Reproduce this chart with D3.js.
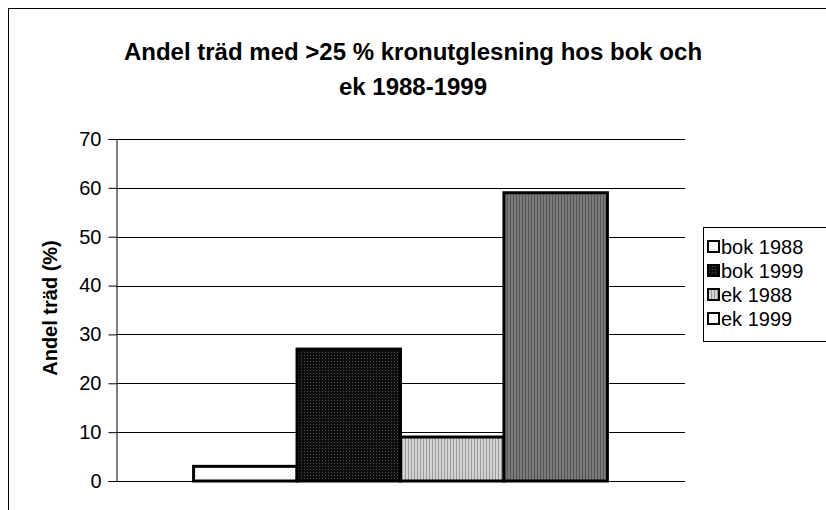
<!DOCTYPE html>
<html>
<head>
<meta charset="utf-8">
<script src="https://cdn.jsdelivr.net/npm/d3@7/dist/d3.min.js"></script>
<style>
  html, body { margin: 0; padding: 0; background: #fff; }
  svg { display: block; font-family: "Liberation Sans", Arial, sans-serif; }
</style>
</head>
<body>
<svg id="chart" width="826" height="510"></svg>
<script>
const titleLines = ["Andel träd med >25 % kronutglesning hos bok och", "ek 1988-1999"];
const yAxisTitle = "Andel träd (%)";
const categories = [""];
const seriesNames = ["bok 1988", "bok 1999", "ek 1988", "ek 1999"];
const seriesValues = [3, 27, 9, 59];
const yTicks = [0, 10, 20, 30, 40, 50, 60, 70];

const svg = d3.select("#chart");
const W = 826, H = 510;
const plot = { left: 116, right: 685, top: 139, bottom: 481 };

// patterns
const defs = svg.append("defs");
function pat(id, w, h, bg, draw) {
  const p = defs.append("pattern").attr("id", id).attr("patternUnits", "userSpaceOnUse")
    .attr("width", w).attr("height", h);
  p.append("rect").attr("width", w).attr("height", h).attr("fill", bg);
  draw(p);
}
pat("p0", 4, 4, "#ffffff", p => { p.append("rect").attr("x", 0).attr("y", 0).attr("width", 1).attr("height", 1).attr("fill", "#e6e6e6"); p.append("rect").attr("x", 2).attr("y", 2).attr("width", 1).attr("height", 1).attr("fill", "#e6e6e6"); });
pat("p1", 3, 3, "#0e0e0e", p => { p.append("rect").attr("x", 1).attr("y", 1).attr("width", 1).attr("height", 1).attr("fill", "#4a4a4a"); });
pat("p2", 3, 3, "#d4d4d4", p => { p.append("rect").attr("x", 0).attr("y", 0).attr("width", 1).attr("height", 3).attr("fill", "#9a9a9a"); });
pat("p3", 3, 3, "#7a7a7a", p => { p.append("rect").attr("x", 0).attr("y", 0).attr("width", 1).attr("height", 3).attr("fill", "#555555"); });
const fills = ["url(#p0)", "url(#p1)", "url(#p2)", "url(#p3)"];
const legendFills = ["url(#p0)", "url(#p1)", "url(#p2)", "#ffffff"];

// outer frame
svg.append("rect").attr("x", 8.5).attr("y", 8.5).attr("width", W + 10).attr("height", H + 10)
  .attr("fill", "#fff").attr("stroke", "#000").attr("stroke-width", 1);

// title
svg.append("text").attr("x", 413).attr("y", 60).attr("text-anchor", "middle")
  .attr("font-size", 24).attr("font-weight", "bold")
  .selectAll("tspan").data(titleLines).join("tspan")
  .attr("x", 413).attr("dy", (d, i) => i === 0 ? 0 : 35).text(d => d);

const y = d3.scaleLinear().domain([0, 70]).range([plot.bottom, plot.top]);
const x0 = d3.scaleBand().domain(categories).range([plot.left, plot.right]).paddingInner(0).paddingOuter(0.1875);
const x1 = d3.scaleBand().domain(seriesNames).range([0, x0.bandwidth()]).padding(0);

// gridlines
svg.append("g").selectAll("line").data(yTicks.filter(t => t > 0)).join("line")
  .attr("x1", plot.left).attr("x2", plot.right)
  .attr("y1", d => Math.round(y(d)) + 0.5).attr("y2", d => Math.round(y(d)) + 0.5)
  .attr("stroke", "#000").attr("stroke-width", 1);

// y axis
const yAxis = d3.axisLeft(y).tickValues(yTicks).tickSize(8).tickPadding(7).tickFormat(d3.format("d"));
const gy = svg.append("g").attr("transform", `translate(${plot.left + 0.5},0)`).call(yAxis);
gy.select(".domain").attr("stroke", "#000");
gy.selectAll(".tick line").attr("stroke", "#000");
gy.selectAll(".tick text").attr("font-size", 20).attr("font-family", "Liberation Sans, Arial, sans-serif").attr("fill", "#000");

// x baseline
svg.append("line").attr("x1", plot.left).attr("x2", plot.right)
  .attr("y1", plot.bottom + 0.5).attr("y2", plot.bottom + 0.5).attr("stroke", "#000");

// bars
const g = svg.append("g");
categories.forEach(cat => {
  g.selectAll("rect.bar").data(seriesValues).join("rect").attr("class", "bar")
    .attr("x", (d, i) => x0(cat) + x1(seriesNames[i]))
    .attr("y", d => y(d))
    .attr("width", x1.bandwidth())
    .attr("height", d => y(0) - y(d))
    .attr("fill", (d, i) => fills[i])
    .attr("stroke", "#000").attr("stroke-width", 3);
});

// y axis title
svg.append("text").attr("transform", `translate(57,308) rotate(-90)`)
  .attr("text-anchor", "middle").attr("font-size", 20).attr("font-weight", "bold").text(yAxisTitle);

// legend
const lg = svg.append("g");
lg.append("rect").attr("x", 703.5).attr("y", 227.5).attr("width", 130).attr("height", 114)
  .attr("fill", "#fff").attr("stroke", "#000");
const items = lg.selectAll("g.item").data(seriesNames).join("g").attr("class", "item")
  .attr("transform", (d, i) => `translate(708,${247 + i * 24})`);
items.append("rect").attr("x", 0).attr("y", -6).attr("width", 11).attr("height", 11)
  .attr("fill", (d, i) => legendFills[i]).attr("stroke", "#000").attr("stroke-width", 2);
items.append("text").attr("x", 13).attr("y", 7).attr("font-size", 20).text(d => d);
</script>
</body>
</html>
